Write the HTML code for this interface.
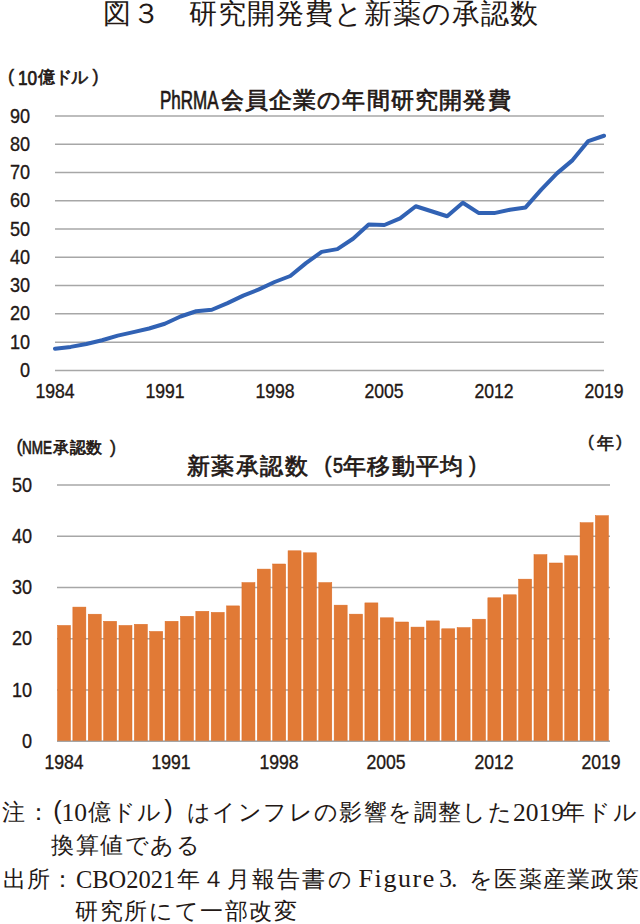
<!DOCTYPE html>
<html lang="ja"><head><meta charset="utf-8"><style>
html,body{margin:0;padding:0;background:#fff;}
body{width:640px;height:924px;position:relative;overflow:hidden;font-family:"Liberation Sans",sans-serif;color:#231815;}
.t{position:absolute;white-space:nowrap;text-spacing-trim:space-all;}
.lat{transform-origin:0 50%;}
svg{position:absolute;left:0;top:0;}
.yl{position:absolute;left:-30px;width:60px;text-align:right;font-size:21px;line-height:21px;transform-origin:100% 50%;transform:scaleX(0.86);-webkit-text-stroke:0.35px #231815;}
.yl2{left:-28.5px;}
.xl{position:absolute;width:80px;text-align:center;font-size:21px;line-height:21px;transform:scaleX(0.84);-webkit-text-stroke:0.35px #231815;}
</style></head><body>
<svg width="640" height="924" viewBox="0 0 640 924">
<g stroke="#a7a7a7" stroke-width="1.5"><line x1="55" x2="604" y1="370.40" y2="370.40"/><line x1="55" x2="604" y1="342.13" y2="342.13"/><line x1="55" x2="604" y1="313.86" y2="313.86"/><line x1="55" x2="604" y1="285.59" y2="285.59"/><line x1="55" x2="604" y1="257.32" y2="257.32"/><line x1="55" x2="604" y1="229.05" y2="229.05"/><line x1="55" x2="604" y1="200.78" y2="200.78"/><line x1="55" x2="604" y1="172.51" y2="172.51"/><line x1="55" x2="604" y1="144.24" y2="144.24"/><line x1="55" x2="604" y1="115.97" y2="115.97"/><line x1="57" x2="610" y1="741.25" y2="741.25"/><line x1="57" x2="610" y1="690.00" y2="690.00"/><line x1="57" x2="610" y1="638.75" y2="638.75"/><line x1="57" x2="610" y1="587.50" y2="587.50"/><line x1="57" x2="610" y1="536.25" y2="536.25"/><line x1="57" x2="610" y1="485.00" y2="485.00"/></g>
<g fill="#e17a36" stroke="#db6a22" stroke-width="0.5"><rect x="57.50" y="625.46" width="13.00" height="115.79"/><rect x="72.87" y="607.10" width="13.00" height="134.15"/><rect x="88.24" y="614.20" width="13.00" height="127.05"/><rect x="103.61" y="621.30" width="13.00" height="119.95"/><rect x="118.98" y="625.46" width="13.00" height="115.79"/><rect x="134.35" y="624.30" width="13.00" height="116.95"/><rect x="149.72" y="631.46" width="13.00" height="109.79"/><rect x="165.09" y="621.30" width="13.00" height="119.95"/><rect x="180.46" y="616.30" width="13.00" height="124.95"/><rect x="195.83" y="611.30" width="13.00" height="129.95"/><rect x="211.20" y="612.40" width="13.00" height="128.85"/><rect x="226.57" y="605.90" width="13.00" height="135.35"/><rect x="241.94" y="582.60" width="13.00" height="158.65"/><rect x="257.31" y="569.10" width="13.00" height="172.15"/><rect x="272.68" y="564.00" width="13.00" height="177.25"/><rect x="288.05" y="550.80" width="13.00" height="190.45"/><rect x="303.42" y="552.80" width="13.00" height="188.45"/><rect x="318.79" y="582.60" width="13.00" height="158.65"/><rect x="334.16" y="605.15" width="13.00" height="136.10"/><rect x="349.53" y="614.15" width="13.00" height="127.10"/><rect x="364.90" y="602.90" width="13.00" height="138.35"/><rect x="380.27" y="617.80" width="13.00" height="123.45"/><rect x="395.64" y="622.00" width="13.00" height="119.25"/><rect x="411.01" y="627.10" width="13.00" height="114.15"/><rect x="426.38" y="620.90" width="13.00" height="120.35"/><rect x="441.75" y="628.80" width="13.00" height="112.45"/><rect x="457.12" y="627.60" width="13.00" height="113.65"/><rect x="472.49" y="619.20" width="13.00" height="122.05"/><rect x="487.86" y="597.80" width="13.00" height="143.45"/><rect x="503.23" y="594.80" width="13.00" height="146.45"/><rect x="518.60" y="579.15" width="13.00" height="162.10"/><rect x="533.97" y="554.65" width="13.00" height="186.60"/><rect x="549.34" y="563.00" width="13.00" height="178.25"/><rect x="564.71" y="555.75" width="13.00" height="185.50"/><rect x="580.08" y="522.70" width="13.00" height="218.55"/><rect x="595.45" y="515.70" width="13.00" height="225.55"/></g>
<line x1="57" x2="610" y1="741.4" y2="741.4" stroke="#a5a5a5" stroke-width="1.4"/>
<polyline points="55.00,348.75 70.69,346.90 86.37,344.00 102.06,340.25 117.74,335.60 133.43,332.10 149.11,328.50 164.80,323.75 180.49,316.50 196.17,311.25 211.86,309.75 227.54,303.10 243.23,295.60 258.91,289.40 274.60,282.00 290.29,276.00 305.97,263.10 321.66,251.90 337.34,249.10 353.03,238.75 368.71,224.60 384.40,225.00 400.09,218.30 415.77,206.25 431.46,211.25 447.14,216.25 462.83,202.80 478.51,212.90 494.20,213.10 509.89,209.75 525.57,207.40 541.26,189.60 556.94,173.40 572.63,160.10 588.31,141.10 604.00,135.75" fill="none" stroke="#3162b4" stroke-width="4" stroke-linejoin="round" stroke-linecap="round"/>
</svg>
<div class="t" style="left:102.80px;top:-0.50px;font-size:28px;line-height:28px;letter-spacing:1.0px;">図３</div>
<div class="t" style="left:189.40px;top:-0.50px;font-size:28px;line-height:28px;letter-spacing:1.0px;">研究開発費と新薬の承認数</div>
<div class="t" style="left:8.00px;top:67.00px;font-size:18.4px;line-height:18.4px;letter-spacing:0px;-webkit-text-stroke:0.4px #231815;">(</div>
<div class="t lat" style="left:18.00px;top:67.50px;font-size:20px;line-height:20px;transform:scaleX(0.86);-webkit-text-stroke:0.7px #231815;">10</div>
<div class="t" style="left:38.40px;top:69.00px;font-size:16.5px;line-height:16.5px;letter-spacing:-0.5px;-webkit-text-stroke:0.7px #231815;">億ドル</div>
<div class="t" style="left:92.60px;top:67.30px;font-size:18.4px;line-height:18.4px;letter-spacing:0px;-webkit-text-stroke:0.4px #231815;">)</div>
<div class="t lat" style="left:159.50px;top:87.50px;font-size:25px;line-height:25px;transform:scaleX(0.68);-webkit-text-stroke:0.7px #231815;">PhRMA</div>
<div class="t" style="left:220.50px;top:88.80px;font-size:23px;line-height:23px;letter-spacing:1.2px;-webkit-text-stroke:0.7px #231815;">会員企業の年間研究開発費</div>
<div class="t" style="left:16.60px;top:437.30px;font-size:18.2px;line-height:18.2px;letter-spacing:0px;-webkit-text-stroke:0.4px #231815;">(</div>
<div class="t lat" style="left:21.50px;top:439.00px;font-size:18.5px;line-height:18.5px;transform:scaleX(0.73);-webkit-text-stroke:0.7px #231815;">NME</div>
<div class="t" style="left:53.00px;top:439.50px;font-size:16px;line-height:16px;letter-spacing:0.6px;-webkit-text-stroke:0.7px #231815;">承認数</div>
<div class="t" style="left:109.90px;top:437.50px;font-size:18.2px;line-height:18.2px;letter-spacing:0px;-webkit-text-stroke:0.4px #231815;">)</div>
<div class="t" style="left:588.00px;top:432.90px;font-size:17.3px;line-height:17.3px;letter-spacing:0px;-webkit-text-stroke:0.4px #231815;">(</div>
<div class="t" style="left:597.10px;top:434.50px;font-size:17px;line-height:17px;letter-spacing:0px;-webkit-text-stroke:0.7px #231815;">年</div>
<div class="t" style="left:616.30px;top:432.90px;font-size:17.3px;line-height:17.3px;letter-spacing:0px;-webkit-text-stroke:0.4px #231815;">)</div>
<div class="t" style="left:186.50px;top:454.50px;font-size:23px;line-height:23px;letter-spacing:1.6px;-webkit-text-stroke:0.7px #231815;">新薬承認数</div>
<div class="t" style="left:324.30px;top:454.00px;font-size:21.9px;line-height:21.9px;letter-spacing:0px;-webkit-text-stroke:0.4px #231815;">(</div>
<div class="t lat" style="left:332.50px;top:455.00px;font-size:22.3px;line-height:22.3px;transform:scaleX(0.8);-webkit-text-stroke:0.7px #231815;">5</div>
<div class="t" style="left:343.00px;top:454.50px;font-size:23px;line-height:23px;letter-spacing:1.3px;-webkit-text-stroke:0.7px #231815;">年移動平均</div>
<div class="t" style="left:468.90px;top:454.00px;font-size:21.9px;line-height:21.9px;letter-spacing:0px;-webkit-text-stroke:0.4px #231815;">)</div>
<div class="t" style="left:2.00px;top:801.00px;font-size:23px;line-height:23px;letter-spacing:1.5px;font-family:'Liberation Serif',serif;">注：</div>
<div class="t" style="left:53.30px;top:797.70px;font-size:25.5px;line-height:25.5px;letter-spacing:0px;">(</div>
<div class="t lat" style="left:61.50px;top:799.60px;font-size:25.5px;line-height:25.5px;letter-spacing:0px;transform:scaleX(1.0);font-family:'Liberation Serif',serif;">10</div>
<div class="t" style="left:87.50px;top:801.00px;font-size:23px;line-height:23px;letter-spacing:1.4px;font-family:'Liberation Serif',serif;">億ドル</div>
<div class="t" style="left:164.15px;top:797.40px;font-size:25.5px;line-height:25.5px;letter-spacing:0px;">)</div>
<div class="t" style="left:187.10px;top:801.00px;font-size:23px;line-height:23px;letter-spacing:1.4px;font-family:'Liberation Serif',serif;">はインフレの影響を調整した</div>
<div class="t lat" style="left:513.00px;top:799.60px;font-size:25.5px;line-height:25.5px;letter-spacing:0px;transform:scaleX(1.0);font-family:'Liberation Serif',serif;">2019</div>
<div class="t" style="left:561.50px;top:801.00px;font-size:23px;line-height:23px;letter-spacing:2.0px;font-family:'Liberation Serif',serif;">年ドル</div>
<div class="t" style="left:51.00px;top:834.20px;font-size:23px;line-height:23px;letter-spacing:1.5px;font-family:'Liberation Serif',serif;">換算値である</div>
<div class="t" style="left:2.50px;top:867.50px;font-size:23px;line-height:23px;letter-spacing:1.0px;font-family:'Liberation Serif',serif;">出所：</div>
<div class="t lat" style="left:75.50px;top:866.70px;font-size:26px;line-height:26px;letter-spacing:0px;transform:scaleX(0.94);font-family:'Liberation Serif',serif;">CBO2021</div>
<div class="t" style="left:176.50px;top:867.50px;font-size:23px;line-height:23px;letter-spacing:2.2px;font-family:'Liberation Serif',serif;">年４月報告書の</div>
<div class="t lat" style="left:358.50px;top:866.20px;font-size:26px;line-height:26px;letter-spacing:1.6px;transform:scaleX(1.0);font-family:'Liberation Serif',serif;">Figure</div>
<div class="t lat" style="left:439.00px;top:866.20px;font-size:26px;line-height:26px;letter-spacing:-1px;transform:scaleX(1.0);font-family:'Liberation Serif',serif;">3.</div>
<div class="t" style="left:469.00px;top:867.50px;font-size:23px;line-height:23px;letter-spacing:1.3px;font-family:'Liberation Serif',serif;">を医薬産業政策</div>
<div class="t" style="left:75.20px;top:900.30px;font-size:23px;line-height:23px;letter-spacing:1.6px;font-family:'Liberation Serif',serif;">研究所にて一部改変</div>
<div class="yl" style="top:358.9px">0</div><div class="yl" style="top:330.6px">10</div><div class="yl" style="top:302.4px">20</div><div class="yl" style="top:274.1px">30</div><div class="yl" style="top:245.8px">40</div><div class="yl" style="top:217.5px">50</div><div class="yl" style="top:189.3px">60</div><div class="yl" style="top:161.0px">70</div><div class="yl" style="top:132.7px">80</div><div class="yl" style="top:104.5px">90</div><div class="yl yl2" style="top:729.8px">0</div><div class="yl yl2" style="top:678.5px">10</div><div class="yl yl2" style="top:627.2px">20</div><div class="yl yl2" style="top:576.0px">30</div><div class="yl yl2" style="top:524.8px">40</div><div class="yl yl2" style="top:473.5px">50</div><div class="xl" style="left:15.0px;top:379.5px">1984</div><div class="xl" style="left:124.8px;top:379.5px">1991</div><div class="xl" style="left:234.6px;top:379.5px">1998</div><div class="xl" style="left:344.4px;top:379.5px">2005</div><div class="xl" style="left:454.2px;top:379.5px">2012</div><div class="xl" style="left:564.0px;top:379.5px">2019</div><div class="xl" style="left:23.5px;top:751px">1984</div><div class="xl" style="left:131.1px;top:751px">1991</div><div class="xl" style="left:238.7px;top:751px">1998</div><div class="xl" style="left:346.3px;top:751px">2005</div><div class="xl" style="left:453.9px;top:751px">2012</div><div class="xl" style="left:561.4px;top:751px">2019</div>
</body></html>
